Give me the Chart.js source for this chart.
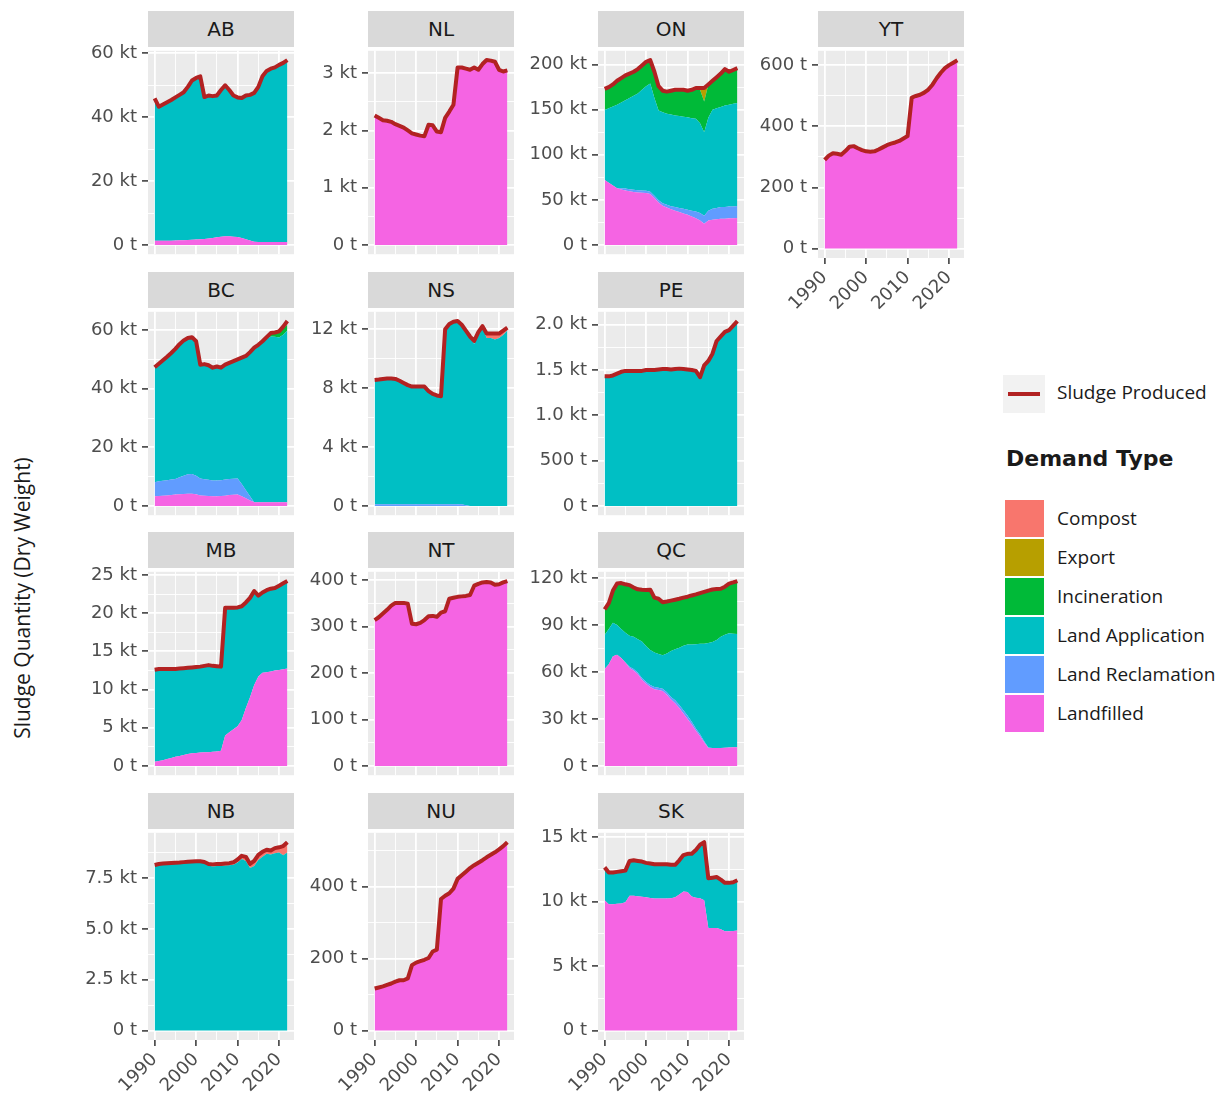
<!DOCTYPE html>
<html>
<head>
<meta charset="utf-8">
<script src="https://cdn.jsdelivr.net/npm/chart.js@4.4.1/dist/chart.umd.min.js"></script>
<style>
  body { margin: 0; background: #fff; }
  #wrap { position: relative; width: 1225px; height: 1095px; overflow: hidden; }
  #wrap canvas { position: absolute; }
  .strip { position: absolute; background: #D9D9D9; color: #1A1A1A; font: 20px 'DejaVu Sans'; text-align: center; line-height: 36px; height: 36px; }
  .ytitle { position: absolute; left: -178px; top: 584px; width: 400px; text-align: center; font: 21px 'Open Sans'; color: #1A1A1A; transform: rotate(-90deg); }
  .lg { position: absolute; font: 19px 'Open Sans'; color: #1A1A1A; line-height: 22px; }
  .lgtitle { position: absolute; left: 1006px; top: 446px; font: bold 22px 'DejaVu Sans'; color: #1A1A1A; }
  .key { position: absolute; left: 1005px; width: 39px; height: 37px; }
</style>
</head>
<body>
<div id="wrap">
  <div class="ytitle">Sludge Quantity (Dry Weight)</div>
  <div id="legend"></div>
</div>
<script>
// years on the x axis
const years = [1990, 1991, 1992, 1993, 1994, 1995, 1996, 1997, 1998, 1999,
               2000, 2001, 2002, 2003, 2004, 2005, 2006, 2007, 2008, 2009,
               2010, 2011, 2012, 2013, 2014, 2015, 2016, 2017, 2018, 2019,
               2020, 2021, 2022];
const xTickYears = [1990, 1995, 2000, 2005, 2010, 2015, 2020];

const demandTypes = ['Compost', 'Export', 'Incineration', 'Land Application', 'Land Reclamation', 'Landfilled'];
const demandColors = ['#F8766D', '#B79F00', '#00BA38', '#00BFC4', '#619CFF', '#F564E3'];
const lineColor = '#B22222';

// AB (kt)
const AB_total = [45.9, 43.3, 44.0, 44.7, 45.4, 46.2, 47.0, 47.8, 49.5, 51.5, 52.3, 52.8, 46.3, 46.8, 46.6, 46.8, 48.5, 50.0, 48.5, 46.8, 46.2, 46.0, 46.8, 47.0, 47.6, 49.5, 52.8, 54.5, 55.2, 55.6, 56.4, 57.0, 57.9];
const AB_landfilled = [1.3, 1.3, 1.3, 1.35, 1.35, 1.4, 1.45, 1.5, 1.55, 1.6, 1.7, 1.8, 1.9, 2.0, 2.2, 2.4, 2.6, 2.7, 2.7, 2.6, 2.5, 2.2, 1.8, 1.4, 1.0, 0.9, 0.9, 0.9, 0.9, 0.9, 0.9, 0.9, 0.9];
const AB_landApp = [44.6, 42.0, 42.7, 43.35, 44.05, 44.8, 45.55, 46.3, 47.95, 49.9, 50.6, 51.0, 44.4, 44.8, 44.4, 44.4, 45.9, 47.3, 45.8, 44.2, 43.7, 43.8, 45.0, 45.6, 46.6, 48.6, 51.9, 53.6, 54.3, 54.7, 55.5, 56.1, 57.0];

// NL (kt)
const NL_total = [2.26, 2.22, 2.18, 2.17, 2.15, 2.11, 2.08, 2.05, 2.00, 1.95, 1.93, 1.91, 1.90, 2.10, 2.09, 1.98, 1.97, 2.22, 2.33, 2.45, 3.10, 3.10, 3.08, 3.06, 3.10, 3.06, 3.16, 3.23, 3.22, 3.20, 3.06, 3.03, 3.05];
const NL_landfilled = [2.26, 2.22, 2.18, 2.17, 2.15, 2.11, 2.08, 2.05, 2.00, 1.95, 1.93, 1.91, 1.90, 2.10, 2.09, 1.98, 1.97, 2.22, 2.33, 2.45, 3.10, 3.10, 3.08, 3.06, 3.10, 3.06, 3.16, 3.23, 3.22, 3.20, 3.06, 3.03, 3.05];

// ON (kt)
const ON_total = [173, 175, 178, 182, 185, 188, 190, 192, 195, 199, 203, 205, 192, 176, 171, 170, 171, 172, 172, 172, 171, 172, 174, 174, 174, 178, 182, 186, 190, 195, 192, 194, 196];
const ON_landfilled = [72, 69, 66, 63, 61.5, 60.5, 59.5, 58.8, 58.2, 57.8, 57.5, 56.5, 52, 47, 43.5, 41.5, 39.5, 38, 36.5, 35, 33.5, 31.5, 29.5, 27, 23.5, 27, 28, 28.5, 29, 29, 29.5, 29.5, 30];
const ON_landRecl = [0, 0, 0, 0, 1.5, 2, 2.2, 2.3, 2.4, 2.5, 2.5, 2.5, 2.5, 2.6, 2.8, 3, 3.5, 4, 4.5, 5, 5.5, 6.5, 7.5, 8.5, 9, 11, 12, 12.5, 13, 13, 13, 13.2, 13.3];
const ON_landApp = [77.5, 82.5, 87.5, 92.5, 95, 98, 101.3, 104.4, 107.4, 111.7, 116, 120, 108.5, 99.4, 100.7, 101, 101.5, 101.5, 102, 102, 102.5, 102.5, 103, 99.5, 92.5, 103, 110, 110.5, 111, 112.5, 113, 113.8, 114.2];
const ON_incin = [23.5, 23.5, 24.5, 26.5, 27, 27.5, 27, 26.5, 27, 27, 27, 26, 29, 27, 24, 24.5, 26.5, 28.5, 29, 30, 29.5, 31.5, 34, 37, 34, 37, 32, 34.5, 37, 40.5, 36.5, 37.5, 38.5];
const ON_export = [0, 0, 0, 0, 0, 0, 0, 0, 0, 0, 0, 0, 0, 0, 0, 0, 0, 0, 0, 0, 0, 0, 0, 2, 15, 0, 0, 0, 0, 0, 0, 0, 0];

// YT (t)
const YT_total = [290, 304, 312, 310, 307, 319, 333, 335, 328, 322, 318, 317, 318, 324, 331, 338, 343, 347, 352, 360, 368, 494, 499, 503, 510, 520, 536, 557, 575, 590, 600, 608, 616];
const YT_landfilled = [290, 304, 312, 310, 307, 319, 333, 335, 328, 322, 318, 317, 318, 324, 331, 338, 343, 347, 352, 360, 368, 494, 499, 503, 510, 520, 536, 557, 575, 590, 600, 608, 616];

// BC (kt)
const BC_total = [47.3, 48.5, 49.7, 50.9, 52.2, 53.6, 55.2, 56.5, 57.3, 57.6, 56.2, 48.2, 48.4, 48.0, 47.2, 47.6, 47.2, 48.2, 48.8, 49.4, 50.0, 50.6, 51.2, 52.5, 54.0, 55.0, 56.2, 57.6, 59.0, 59.2, 59.6, 61.2, 63.1];
const BC_landfilled = [3.3, 3.4, 3.5, 3.6, 3.7, 3.9, 4.0, 4.1, 4.2, 4.2, 4.0, 3.6, 3.5, 3.4, 3.3, 3.3, 3.4, 3.5, 3.7, 3.8, 3.9, 3.3, 2.6, 1.9, 1.3, 1.3, 1.3, 1.3, 1.3, 1.3, 1.3, 1.3, 1.3];
const BC_landRecl = [4.8, 5.0, 5.1, 5.2, 5.3, 5.3, 5.8, 6.2, 6.6, 6.7, 6.3, 5.8, 5.6, 5.5, 5.4, 5.4, 5.4, 5.5, 5.5, 5.5, 5.5, 4.2, 2.8, 1.4, 0, 0, 0, 0, 0, 0, 0, 0, 0];
const BC_landApp = [39.2, 40.1, 41.1, 42.1, 43.2, 44.4, 45.4, 46.2, 46.5, 46.7, 45.9, 38.8, 39.3, 39.1, 38.5, 38.9, 38.4, 39.2, 39.6, 40.1, 40.6, 43.1, 45.8, 49.2, 52.7, 53.7, 54.9, 55.8, 56.5, 56.4, 56.2, 57.1, 58.6];
const BC_incin = [0, 0, 0, 0, 0, 0, 0, 0, 0, 0, 0, 0, 0, 0, 0, 0, 0, 0, 0, 0, 0, 0, 0, 0, 0, 0, 0, 0.5, 1.2, 1.5, 1.8, 2.0, 2.0];
const BC_compost = [0, 0, 0, 0, 0, 0, 0, 0, 0, 0, 0, 0, 0, 0, 0, 0, 0, 0, 0, 0, 0, 0, 0, 0, 0, 0, 0, 0, 0, 0, 0.3, 0.8, 1.2];

// NS (kt)
const NS_total = [8.55, 8.58, 8.62, 8.65, 8.65, 8.62, 8.5, 8.35, 8.2, 8.1, 8.1, 8.1, 8.1, 7.8, 7.6, 7.5, 7.45, 12.0, 12.35, 12.5, 12.55, 12.3, 11.9, 11.5, 11.2, 11.8, 12.2, 11.7, 11.7, 11.7, 11.7, 11.9, 12.1];
const NS_landRecl = [0.12, 0.12, 0.12, 0.12, 0.12, 0.12, 0.12, 0.12, 0.12, 0.12, 0.12, 0.12, 0.12, 0.12, 0.12, 0.12, 0.12, 0.12, 0.12, 0.12, 0.12, 0.12, 0.05, 0, 0, 0, 0, 0, 0, 0, 0, 0, 0];
const NS_landApp = [8.43, 8.46, 8.50, 8.53, 8.53, 8.50, 8.38, 8.23, 8.08, 7.98, 7.98, 7.98, 7.98, 7.68, 7.48, 7.38, 7.33, 11.88, 12.23, 12.38, 12.43, 12.18, 11.85, 11.4, 11.0, 11.6, 12.1, 11.4, 11.4, 11.3, 11.4, 11.6, 11.9];
const NS_compost = [0, 0, 0, 0, 0, 0, 0, 0, 0, 0, 0, 0, 0, 0, 0, 0, 0, 0, 0, 0, 0, 0, 0, 0.1, 0.2, 0.2, 0.1, 0.3, 0.3, 0.4, 0.3, 0.3, 0.2];

// PE (kt)
const PE_total = [1.43, 1.43, 1.44, 1.46, 1.48, 1.49, 1.49, 1.49, 1.49, 1.49, 1.50, 1.50, 1.50, 1.505, 1.51, 1.51, 1.505, 1.51, 1.515, 1.51, 1.505, 1.50, 1.49, 1.42, 1.55, 1.60, 1.68, 1.82, 1.87, 1.92, 1.94, 1.99, 2.04];
const PE_landApp = [1.43, 1.43, 1.44, 1.46, 1.48, 1.49, 1.49, 1.49, 1.49, 1.49, 1.50, 1.50, 1.50, 1.505, 1.51, 1.51, 1.505, 1.51, 1.515, 1.51, 1.505, 1.50, 1.49, 1.42, 1.55, 1.60, 1.68, 1.82, 1.87, 1.92, 1.94, 1.99, 2.04];

// MB (kt)
const MB_total = [12.6, 12.7, 12.7, 12.7, 12.7, 12.7, 12.75, 12.8, 12.85, 12.9, 12.95, 13.0, 13.1, 13.2, 13.1, 13.05, 13.0, 20.7, 20.7, 20.7, 20.75, 20.9, 21.4, 22.0, 22.9, 22.3, 22.7, 23.0, 23.2, 23.3, 23.6, 23.9, 24.2];
const MB_landfilled = [0.55, 0.65, 0.75, 0.9, 1.05, 1.2, 1.3, 1.45, 1.55, 1.65, 1.7, 1.75, 1.8, 1.8, 1.85, 1.9, 2.0, 4.0, 4.4, 4.8, 5.2, 6.0, 7.6, 9.0, 10.6, 11.7, 12.2, 12.25, 12.35, 12.5, 12.55, 12.65, 12.75];
const MB_landApp = [12.05, 12.05, 11.95, 11.8, 11.65, 11.5, 11.45, 11.35, 11.3, 11.25, 11.25, 11.25, 11.3, 11.4, 11.25, 11.15, 11.0, 16.7, 16.3, 15.9, 15.55, 14.9, 13.8, 13.0, 12.3, 10.6, 10.5, 10.75, 10.85, 10.8, 11.05, 11.25, 11.45];

// NT (t)
const NT_total = [314, 320, 328, 336, 345, 351, 351, 351, 349, 306, 305, 308, 314, 322, 323, 321, 330, 333, 360, 362, 364, 365, 366, 368, 388, 392, 395, 396, 395, 390, 391, 395, 398];
const NT_landfilled = [314, 320, 328, 336, 345, 351, 351, 351, 349, 306, 305, 308, 314, 322, 323, 321, 330, 333, 360, 362, 364, 365, 366, 368, 388, 392, 395, 396, 395, 390, 391, 395, 398];

// QC (kt)
const QC_total = [100, 104, 112, 116.5, 116.8, 116, 115.5, 114, 112.8, 112.5, 112.4, 112.6, 107.5, 106.8, 104.5, 105, 105.6, 106.2, 106.8, 107.5, 108.1, 108.9, 109.6, 110.4, 111.2, 112, 112.7, 113, 113.2, 114.5, 116.4, 117.2, 118.1];
const QC_landfilled = [62, 65, 70, 71, 69, 66, 62.5, 61, 58.5, 55, 52.5, 50.5, 49, 48.5, 47.8, 45.5, 42.5, 40, 37, 33.5, 30, 26.5, 22.5, 19, 15, 11.5, 11.5, 11.5, 11.5, 11.6, 11.8, 11.9, 12];
const QC_landRecl = [0, 0, 0, 0, 0, 0, 0.8, 1, 1, 1.2, 1.2, 1.2, 1.5, 1.5, 1.5, 1.5, 1.6, 2, 2, 2, 2, 1.8, 1.5, 1.2, 0.8, 0.3, 0, 0, 0, 0, 0, 0, 0];
const QC_landApp = [21.6, 22.5, 21.5, 19, 18.5, 19, 19.9, 20.5, 21.5, 23.3, 22.8, 22.3, 22, 21.5, 21.4, 24.8, 29.4, 32.5, 36.5, 41.3, 45.5, 49.2, 53.8, 57.8, 62.2, 66.7, 67.7, 69, 71, 72.2, 73, 72.6, 72.3];
const QC_incin = [16.4, 16.5, 20.5, 26.5, 29.3, 31, 32.3, 31.5, 31.8, 33, 35.9, 38.6, 35, 35.3, 33.8, 33.2, 32.1, 31.7, 31.3, 30.7, 30.6, 31.4, 31.8, 32.4, 33.2, 33.5, 33.5, 32.5, 30.7, 30.7, 31.6, 32.7, 33.8];

// NB (kt)
const NB_total = [8.15, 8.2, 8.22, 8.24, 8.25, 8.26, 8.27, 8.29, 8.31, 8.32, 8.33, 8.33, 8.3, 8.2, 8.18, 8.2, 8.2, 8.22, 8.24, 8.28, 8.42, 8.6, 8.55, 8.2, 8.35, 8.65, 8.8, 8.9, 8.86, 8.98, 9.02, 9.08, 9.27];
const NB_landApp = [8.15, 8.2, 8.22, 8.24, 8.25, 8.26, 8.27, 8.29, 8.31, 8.32, 8.33, 8.33, 8.3, 8.12, 8.08, 8.1, 8.1, 8.12, 8.14, 8.16, 8.27, 8.45, 8.35, 8.0, 8.1, 8.4, 8.55, 8.7, 8.66, 8.73, 8.77, 8.63, 8.77];
const NB_compost = [0, 0, 0, 0, 0, 0, 0, 0, 0, 0, 0, 0, 0, 0.08, 0.1, 0.1, 0.1, 0.1, 0.1, 0.12, 0.15, 0.15, 0.2, 0.2, 0.25, 0.25, 0.25, 0.2, 0.2, 0.25, 0.25, 0.45, 0.5];

// NU (t)
const NU_total = [117, 120, 123, 127, 131, 136, 140, 140, 145, 182, 189, 193, 197, 202, 220, 225, 366, 375, 382, 395, 422, 432, 442, 452, 460, 467, 474, 482, 489, 496, 504, 513, 524];
const NU_landfilled = [117, 120, 123, 127, 131, 136, 140, 140, 145, 182, 189, 193, 197, 202, 220, 225, 366, 375, 382, 395, 422, 432, 442, 452, 460, 467, 474, 482, 489, 496, 504, 513, 524];

// SK (kt)
const SK_total = [12.65, 12.25, 12.25, 12.3, 12.35, 12.4, 13.15, 13.2, 13.15, 13.1, 13.0, 12.95, 12.9, 12.9, 12.9, 12.9, 12.85, 12.85, 13.2, 13.6, 13.7, 13.7, 14.0, 14.4, 14.6, 11.8, 11.85, 11.9, 11.7, 11.45, 11.45, 11.5, 11.65];
const SK_landfilled = [10.1, 9.8, 9.8, 9.83, 9.85, 9.95, 10.45, 10.45, 10.42, 10.38, 10.34, 10.28, 10.24, 10.24, 10.24, 10.24, 10.26, 10.34, 10.55, 10.78, 10.75, 10.4, 10.3, 10.25, 10.1, 7.95, 7.95, 7.95, 7.85, 7.7, 7.7, 7.72, 7.75];
const SK_landApp = [2.55, 2.45, 2.45, 2.47, 2.5, 2.45, 2.7, 2.75, 2.73, 2.72, 2.66, 2.67, 2.66, 2.66, 2.66, 2.66, 2.59, 2.51, 2.65, 2.82, 2.95, 3.3, 3.7, 4.15, 4.5, 3.85, 3.9, 3.95, 3.85, 3.75, 3.75, 3.78, 3.9];

// facet layout: column, row, units and y tick step of each panel
const panels = [
  { code: 'AB', col: 0, row: 0, unit: 'kt', step: 20, dec: 0, total: AB_total, layers: { 'Landfilled': AB_landfilled, 'Land Application': AB_landApp } },
  { code: 'NL', col: 1, row: 0, unit: 'kt', step: 1, dec: 0, total: NL_total, layers: { 'Landfilled': NL_landfilled } },
  { code: 'ON', col: 2, row: 0, unit: 'kt', step: 50, dec: 0, total: ON_total, layers: { 'Landfilled': ON_landfilled, 'Land Reclamation': ON_landRecl, 'Land Application': ON_landApp, 'Incineration': ON_incin, 'Export': ON_export } },
  { code: 'YT', col: 3, row: 0, unit: 't', step: 200, dec: 0, total: YT_total, layers: { 'Landfilled': YT_landfilled }, xAxis: true },
  { code: 'BC', col: 0, row: 1, unit: 'kt', step: 20, dec: 0, total: BC_total, layers: { 'Landfilled': BC_landfilled, 'Land Reclamation': BC_landRecl, 'Land Application': BC_landApp, 'Incineration': BC_incin, 'Compost': BC_compost } },
  { code: 'NS', col: 1, row: 1, unit: 'kt', step: 4, dec: 0, total: NS_total, layers: { 'Land Reclamation': NS_landRecl, 'Land Application': NS_landApp, 'Compost': NS_compost } },
  { code: 'PE', col: 2, row: 1, unit: 'kt', step: 0.5, dec: 1, total: PE_total, layers: { 'Land Application': PE_landApp } },
  { code: 'MB', col: 0, row: 2, unit: 'kt', step: 5, dec: 0, total: MB_total, layers: { 'Landfilled': MB_landfilled, 'Land Application': MB_landApp } },
  { code: 'NT', col: 1, row: 2, unit: 't', step: 100, dec: 0, total: NT_total, layers: { 'Landfilled': NT_landfilled } },
  { code: 'QC', col: 2, row: 2, unit: 'kt', step: 30, dec: 0, total: QC_total, layers: { 'Landfilled': QC_landfilled, 'Land Reclamation': QC_landRecl, 'Land Application': QC_landApp, 'Incineration': QC_incin } },
  { code: 'NB', col: 0, row: 3, unit: 'kt', step: 2.5, dec: 1, total: NB_total, layers: { 'Land Application': NB_landApp, 'Compost': NB_compost }, xAxis: true },
  { code: 'NU', col: 1, row: 3, unit: 't', step: 200, dec: 0, total: NU_total, layers: { 'Landfilled': NU_landfilled }, xAxis: true },
  { code: 'SK', col: 2, row: 3, unit: 'kt', step: 5, dec: 0, total: SK_total, layers: { 'Landfilled': SK_landfilled, 'Land Application': SK_landApp }, xAxis: true }
];

const COLS = [148, 368, 598, 818];
const ROWS = [47, 308, 568, 829];
const PW = 146, PH = 211, STRIP = 36;
const AXW = 80, PADT = 12, PADR = 22, XAXH = 70;

Chart.defaults.font.family = "'DejaVu Sans', sans-serif";

const panelBg = {
  id: 'panelBg',
  beforeDraw(chart) {
    const { ctx, chartArea: a } = chart;
    ctx.save();
    ctx.fillStyle = '#EBEBEB';
    ctx.fillRect(a.left, a.top, a.right - a.left, a.bottom - a.top);
    ctx.restore();
  }
};

function fmtTick(v, p) {
  const t = p.unit === 'kt' ? v * 1000 : v;
  if (Math.abs(t) < 1e-6) return '0 t';
  if (t < 1000) return Math.round(t) + ' t';
  return (t / 1000).toFixed(p.dec) + ' kt';
}

const gridWidth = c => (c.tick && c.tick.minor ? 0.9 : 1.8);
const tickCol = c => (c.tick && c.tick.minor ? 'rgba(0,0,0,0)' : '#333333');

const wrap = document.getElementById('wrap');
const span = years[years.length - 1] - years[0];
const xMin = years[0] - 0.05 * span, xMax = years[years.length - 1] + 0.05 * span;

panels.forEach(p => {
  const left = COLS[p.col], top = ROWS[p.row];

  const strip = document.createElement('div');
  strip.className = 'strip';
  strip.style.left = left + 'px';
  strip.style.top = (top - STRIP) + 'px';
  strip.style.width = PW + 'px';
  strip.textContent = p.code;
  wrap.appendChild(strip);

  const canvas = document.createElement('canvas');
  canvas.width = AXW + PW + PADR;
  canvas.height = PADT + PH + (p.xAxis ? XAXH : PADT);
  canvas.style.left = (left - AXW) + 'px';
  canvas.style.top = (top - PADT) + 'px';
  wrap.appendChild(canvas);

  const maxV = Math.max(...p.total);
  const yMin = -0.05 * maxV, yMax = 1.05 * maxV;
  const yTicks = [];
  for (let k = 0; k * p.step / 2 <= yMax; k++) {
    yTicks.push({ value: k * p.step / 2, minor: k % 2 === 1 });
  }
  const xTicks = xTickYears.map(y => ({ value: y, minor: y % 10 !== 0 }));

  const datasets = [];
  ['Landfilled', 'Land Reclamation', 'Land Application', 'Incineration', 'Export', 'Compost'].forEach(name => {
    const vals = p.layers[name];
    if (!vals) return;
    datasets.push({
      label: name,
      data: years.map((yr, i) => ({ x: yr, y: vals[i] })),
      stack: 'demand',
      fill: datasets.length === 0 ? 'origin' : '-1',
      backgroundColor: demandColors[demandTypes.indexOf(name)],
      borderWidth: 0,
      pointRadius: 0,
      tension: 0
    });
  });
  datasets.push({
    label: 'Sludge Produced',
    data: years.map((yr, i) => ({ x: yr, y: p.total[i] })),
    stack: 'total',
    order: -1,
    fill: false,
    borderColor: lineColor,
    borderWidth: 4,
    borderJoinStyle: 'round',
    pointRadius: 0,
    tension: 0
  });

  new Chart(canvas, {
    type: 'line',
    data: { datasets },
    plugins: [panelBg],
    options: {
      responsive: false,
      animation: false,
      events: [],
      layout: { padding: { top: PADT, right: PADR, bottom: p.xAxis ? 0 : PADT, left: 0 } },
      plugins: { legend: { display: false }, tooltip: { enabled: false } },
      scales: {
        x: {
          type: 'linear',
          min: xMin,
          max: xMax,
          afterBuildTicks: ax => { ax.ticks = xTicks.map(t => ({ ...t })); },
          afterFit: ax => { ax.height = p.xAxis ? XAXH : 0; },
          border: { display: false },
          grid: { color: '#FFFFFF', lineWidth: gridWidth, drawTicks: !!p.xAxis, tickLength: 6, tickWidth: 1.5, tickColor: tickCol },
          ticks: {
            display: !!p.xAxis,
            autoSkip: false,
            minRotation: 45,
            maxRotation: 45,
            padding: 3,
            color: '#4D4D4D',
            font: { size: 18 },
            callback: (v, i, t) => (t[i].minor ? '' : String(v))
          }
        },
        y: {
          stacked: true,
          min: yMin,
          max: yMax,
          afterBuildTicks: ax => { ax.ticks = yTicks.map(t => ({ ...t })); },
          afterFit: ax => { ax.width = AXW; },
          border: { display: false },
          grid: { color: '#FFFFFF', lineWidth: gridWidth, drawTicks: true, tickLength: 6, tickWidth: 1.5, tickColor: tickCol },
          ticks: {
            autoSkip: false,
            padding: 5,
            color: '#4D4D4D',
            font: { size: 18 },
            callback: (v, i, t) => (t[i].minor ? '' : fmtTick(v, p))
          }
        }
      }
    }
  });
});

// legend
const legend = document.getElementById('legend');
let html = '<div style="position:absolute;left:1003px;top:375px;width:42px;height:38px;background:#F2F2F2">' +
  '<div style="position:absolute;left:5px;right:5px;top:17px;height:4px;background:' + lineColor + '"></div></div>' +
  '<div class="lg" style="left:1057px;top:381px">Sludge Produced</div>' +
  '<div class="lgtitle">Demand Type</div>';
demandTypes.forEach((name, i) => {
  const y = 500 + i * 39;
  html += '<div class="key" style="top:' + y + 'px;background:' + demandColors[i] + '"></div>' +
    '<div class="lg" style="left:1057px;top:' + (y + 7) + 'px">' + name + '</div>';
});
legend.innerHTML = html;
</script>
</body>
</html>
